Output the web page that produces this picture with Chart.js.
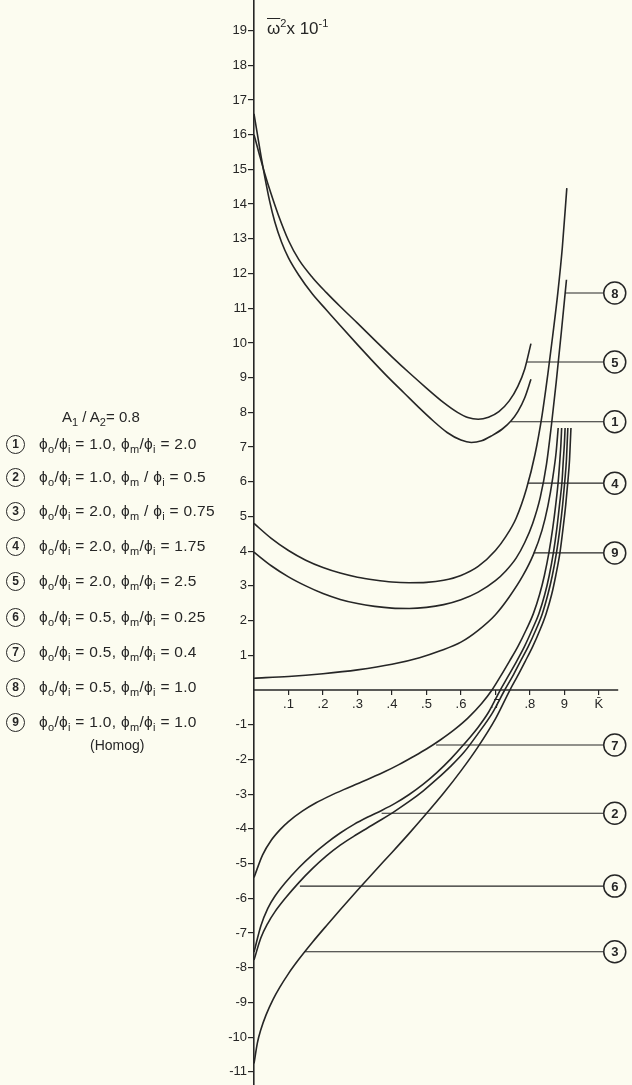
<!DOCTYPE html>
<html>
<head>
<meta charset="utf-8">
<script src="https://cdn.jsdelivr.net/npm/chart.js@4.4.1/dist/chart.umd.min.js"></script>
<style>
  html, body { margin: 0; padding: 0; background: #fcfcf0; }
  #wrap { position: relative; width: 632px; height: 1085px; overflow: hidden;
          font-family: "Liberation Sans", Arial, sans-serif; color: #262626; }
  #box { position: absolute; left: 0; top: 0; width: 632px; height: 1085px; }
  .ttl { position: absolute; left: 267px; top: 17px; font-size: 17px; white-space: nowrap; }
  .ttl .bar { text-decoration: overline; }
  .ttl sup { font-size: 11px; }
  .ratio { position: absolute; left: 62px; font-size: 15px; white-space: nowrap; }
  .row { position: absolute; left: 6px; height: 22px; line-height: 22px; white-space: nowrap; font-size: 15.5px; letter-spacing: 0.3px; }
  .row .num { display: inline-block; width: 17px; height: 17px; border: 1.5px solid #262626; border-radius: 50%;
              text-align: center; line-height: 17px; font-size: 12px; font-weight: bold; vertical-align: middle; margin-right: 14px; letter-spacing: 0; }
  .homog { position: absolute; left: 90px; font-size: 14px; }
  sub { font-size: 11px; }
</style>
</head>
<body>
<div id="wrap">
  <div id="box"><canvas id="grafico"></canvas></div>
  <div class="ttl"><span class="bar">ω</span><sup>2</sup>x 10<sup>-1</sup></div>
  <div id="legenda"></div>
</div>
<script>
// curvas: K (eixo x) e omega^2 x 10^-1 (eixo y)
const k1 = [0, 0.01, 0.02, 0.03, 0.045, 0.06, 0.08, 0.1, 0.13, 0.17, 0.21, 0.25, 0.3, 0.34, 0.39, 0.436, 0.48, 0.52, 0.56, 0.6, 0.63, 0.66, 0.69, 0.72, 0.745, 0.765, 0.785, 0.803];
const w1 = [16.6, 16.0, 15.4, 14.85, 14.1, 13.5, 12.9, 12.45, 11.95, 11.4, 10.95, 10.5, 9.95, 9.52, 9.0, 8.55, 8.12, 7.75, 7.42, 7.2, 7.13, 7.18, 7.33, 7.52, 7.75, 8.02, 8.42, 8.95];

const k5 = [0, 0.015, 0.03, 0.05, 0.07, 0.1, 0.13, 0.17, 0.21, 0.25, 0.3, 0.35, 0.4, 0.45, 0.5, 0.55, 0.59, 0.62, 0.65, 0.68, 0.71, 0.74, 0.765, 0.785, 0.803];
const w5 = [16.0, 15.45, 14.92, 14.28, 13.7, 12.95, 12.4, 11.88, 11.45, 11.05, 10.57, 10.08, 9.6, 9.14, 8.7, 8.28, 8.0, 7.85, 7.8, 7.86, 8.02, 8.33, 8.75, 9.25, 9.98];

const k4 = [0, 0.05, 0.1, 0.15, 0.2, 0.25, 0.3, 0.35, 0.4, 0.45, 0.5, 0.55, 0.6, 0.65, 0.7, 0.73, 0.76, 0.79, 0.815, 0.835, 0.852, 0.866, 0.881, 0.894, 0.907];
const w4 = [4.8, 4.37, 4.02, 3.74, 3.53, 3.37, 3.25, 3.17, 3.11, 3.09, 3.1, 3.16, 3.3, 3.56, 4.02, 4.42, 4.95, 5.8, 6.8, 7.9, 9.1, 10.2, 11.45, 12.75, 14.46];

const k8 = [0, 0.05, 0.1, 0.15, 0.2, 0.25, 0.3, 0.35, 0.4, 0.45, 0.5, 0.55, 0.6, 0.65, 0.7, 0.73, 0.76, 0.785, 0.808, 0.83, 0.848, 0.862, 0.876, 0.891, 0.906];
const w8 = [3.97, 3.58, 3.26, 3.0, 2.78, 2.61, 2.49, 2.41, 2.36, 2.35, 2.38, 2.46, 2.6, 2.82, 3.15, 3.43, 3.8, 4.25, 4.8, 5.55, 6.5, 7.6, 8.85, 10.3, 11.82];

const k9 = [0, 0.1, 0.2, 0.3, 0.4, 0.48, 0.54, 0.6, 0.65, 0.7, 0.74, 0.78, 0.81, 0.835, 0.852, 0.866, 0.876, 0.882];
const w9 = [0.34, 0.39, 0.47, 0.58, 0.74, 0.93, 1.13, 1.38, 1.72, 2.17, 2.68, 3.3, 3.9, 4.6, 5.3, 6.1, 6.85, 7.55];

const k7 = [0, 0.025, 0.05, 0.075, 0.1, 0.14, 0.18, 0.22, 0.26, 0.3, 0.34, 0.38, 0.42, 0.46, 0.5, 0.54, 0.58, 0.62, 0.66, 0.69,
  0.715, 0.74, 0.765, 0.79, 0.81, 0.828, 0.842, 0.855, 0.866, 0.875, 0.882, 0.887, 0.89, 0.892];
const w7 = [-5.4, -4.75, -4.33, -4.03, -3.79, -3.49, -3.25, -3.05, -2.87, -2.7, -2.53, -2.35, -2.15, -1.93, -1.7, -1.44, -1.15, -0.81, -0.39, 0,
  0.4, 0.82, 1.25, 1.75, 2.2, 2.75, 3.3, 3.95, 4.65, 5.35, 6.0, 6.65, 7.1, 7.55];

const k2 = [0, 0.02, 0.04, 0.06, 0.09, 0.13, 0.17, 0.21, 0.25, 0.29, 0.33, 0.37, 0.41, 0.45, 0.49, 0.53, 0.57, 0.61, 0.65, 0.68, 0.714,
  0.737, 0.761, 0.784, 0.807, 0.826, 0.843, 0.856, 0.868, 0.878, 0.886, 0.893, 0.897, 0.9, 0.902];
const w2 = [-7.55, -6.79, -6.29, -5.95, -5.56, -5.12, -4.74, -4.41, -4.12, -3.87, -3.66, -3.47, -3.26, -3.01, -2.72, -2.38, -1.99, -1.55, -1.07, -0.64, 0,
  0.4, 0.82, 1.25, 1.75, 2.2, 2.75, 3.3, 3.95, 4.65, 5.35, 6.0, 6.65, 7.1, 7.55];

const k6 = [0, 0.02, 0.04, 0.06, 0.09, 0.13, 0.17, 0.21, 0.25, 0.29, 0.33, 0.37, 0.41, 0.45, 0.49, 0.53, 0.57, 0.61, 0.65, 0.69, 0.727,
  0.75, 0.772, 0.795, 0.818, 0.836, 0.852, 0.865, 0.877, 0.887, 0.895, 0.901, 0.906, 0.908, 0.91];
const w6 = [-7.78, -7.14, -6.72, -6.4, -6.01, -5.55, -5.14, -4.78, -4.47, -4.21, -3.97, -3.73, -3.48, -3.21, -2.91, -2.57, -2.2, -1.78, -1.25, -0.68, 0,
  0.4, 0.82, 1.25, 1.75, 2.2, 2.75, 3.3, 3.95, 4.65, 5.35, 6.0, 6.65, 7.1, 7.55];

const k3 = [0, 0.01, 0.02, 0.035, 0.055, 0.075, 0.1, 0.13, 0.17, 0.21, 0.25, 0.3, 0.35, 0.4, 0.45, 0.5, 0.55, 0.6, 0.65, 0.7, 0.742,
  0.764, 0.786, 0.808, 0.83, 0.847, 0.863, 0.875, 0.887, 0.896, 0.904, 0.91, 0.915, 0.917, 0.919];
const w3 = [-10.76, -10.16, -9.78, -9.36, -8.92, -8.56, -8.17, -7.76, -7.26, -6.79, -6.33, -5.77, -5.22, -4.68, -4.13, -3.56, -2.97, -2.33, -1.63, -0.83, 0,
  0.4, 0.82, 1.25, 1.75, 2.2, 2.75, 3.3, 3.95, 4.65, 5.35, 6.0, 6.65, 7.1, 7.55];

// linhas de chamada -> numero no circulo
const leaderIds = ["8", "5", "1", "4", "9", "7", "2", "6", "3"];
const leaderW = [11.44, 9.45, 7.73, 5.96, 3.95, -1.585, -3.55, -5.65, -7.54];
const leaderK = [0.902, 0.79, 0.745, 0.794, 0.811, 0.528, 0.37, 0.133, 0.145];

// eixos
const xTicks = [0.1, 0.2, 0.3, 0.4, 0.5, 0.6, 0.7, 0.8, 0.9, 1.0];
const xTickLabels = [".1", ".2", ".3", ".4", ".5", ".6", ".7", ".8", "9", "K̄"];
const yTicks = [19, 18, 17, 16, 15, 14, 13, 12, 11, 10, 9, 8, 7, 6, 5, 4, 3, 2, 1, -1, -2, -3, -4, -5, -6, -7, -8, -9, -10, -11];
const yTickLabels = ["19", "18", "17", "16", "15", "14", "13", "12", "11", "10", "9", "8", "7", "6", "5", "4", "3", "2", "1",
  "-1", "-2", "-3", "-4", "-5", "-6", "-7", "-8", "-9", "-10", "-11"];

// legenda
const ratioText = "A<sub>1</sub> / A<sub>2</sub>= 0.8";
const legendNums = ["1", "2", "3", "4", "5", "6", "7", "8", "9"];
const legendTexts = [
  "ϕ<sub>o</sub>/ϕ<sub>i</sub> = 1.0, ϕ<sub>m</sub>/ϕ<sub>i</sub> = 2.0",
  "ϕ<sub>o</sub>/ϕ<sub>i</sub> = 1.0, ϕ<sub>m</sub> / ϕ<sub>i</sub> = 0.5",
  "ϕ<sub>o</sub>/ϕ<sub>i</sub> = 2.0, ϕ<sub>m</sub> / ϕ<sub>i</sub> = 0.75",
  "ϕ<sub>o</sub>/ϕ<sub>i</sub> = 2.0, ϕ<sub>m</sub>/ϕ<sub>i</sub> = 1.75",
  "ϕ<sub>o</sub>/ϕ<sub>i</sub> = 2.0, ϕ<sub>m</sub>/ϕ<sub>i</sub> = 2.5",
  "ϕ<sub>o</sub>/ϕ<sub>i</sub> = 0.5, ϕ<sub>m</sub>/ϕ<sub>i</sub> = 0.25",
  "ϕ<sub>o</sub>/ϕ<sub>i</sub> = 0.5, ϕ<sub>m</sub>/ϕ<sub>i</sub> = 0.4",
  "ϕ<sub>o</sub>/ϕ<sub>i</sub> = 0.5, ϕ<sub>m</sub>/ϕ<sub>i</sub> = 1.0",
  "ϕ<sub>o</sub>/ϕ<sub>i</sub> = 1.0, ϕ<sub>m</sub>/ϕ<sub>i</sub> = 1.0"
];
const homogText = "(Homog)";

const ink = "#262626";
const circleK = 1.046;
const circleR = 11;
const xAxisEnd = 1.056;

// monta a legenda em HTML
function montarLegenda() {
  const el = document.getElementById("legenda");
  const rowY = [444, 477, 511, 546, 581, 617, 652, 687, 722];
  let html = `<div class="ratio" style="top:${418 - 10}px">${ratioText}</div>`;
  legendNums.forEach((n, i) => {
    html += `<div class="row" style="top:${rowY[i] - 11}px"><span class="num">${n}</span>${legendTexts[i]}</div>`;
  });
  html += `<div class="homog" style="top:${746 - 9}px">${homogText}</div>`;
  el.innerHTML = html;
}

function pares(ks, ws) {
  return ks.map((k, i) => ({ x: k, y: ws[i] }));
}

const curvas = [[k1, w1], [k5, w5], [k4, w4], [k8, w8], [k9, w9], [k7, w7], [k2, w2], [k6, w6], [k3, w3]];

const datasets = curvas.map(([ks, ws]) => ({
  data: pares(ks, ws),
  showLine: true,
  borderColor: ink,
  borderWidth: 1.6,
  pointRadius: 0,
  cubicInterpolationMode: "monotone",
  fill: false
}));

// eixo x no zero, linhas de chamada e circulos numerados
const chamadas = {
  id: "chamadas",
  afterDatasetsDraw(chart) {
    const { ctx, scales: { x, y } } = chart;
    ctx.save();
    const y0 = y.getPixelForValue(0);
    ctx.strokeStyle = ink;
    ctx.lineWidth = 1.6;
    ctx.beginPath();
    ctx.moveTo(x.getPixelForValue(0), y0);
    ctx.lineTo(x.getPixelForValue(xAxisEnd), y0);
    ctx.stroke();

    const cx = x.getPixelForValue(circleK);
    ctx.fillStyle = ink;
    ctx.font = "bold 13px 'Liberation Sans', Arial, sans-serif";
    ctx.textAlign = "center";
    ctx.textBaseline = "middle";
    leaderIds.forEach((id, i) => {
      const py = y.getPixelForValue(leaderW[i]);
      ctx.lineWidth = 1.1;
      ctx.beginPath();
      ctx.moveTo(x.getPixelForValue(leaderK[i]), py);
      ctx.lineTo(cx - circleR, py);
      ctx.stroke();
      ctx.lineWidth = 1.5;
      ctx.beginPath();
      ctx.arc(cx, py, circleR, 0, Math.PI * 2);
      ctx.stroke();
      ctx.fillText(id, cx, py + 1);
    });
    ctx.restore();
  }
};

montarLegenda();

new Chart(document.getElementById("grafico"), {
  type: "scatter",
  data: { datasets },
  options: {
    animation: false,
    responsive: true,
    maintainAspectRatio: false,
    layout: { padding: 0 },
    plugins: { legend: { display: false }, tooltip: { enabled: false } },
    scales: {
      x: {
        type: "linear",
        min: 0,
        max: 1.096,
        position: { y: 0 },
        afterBuildTicks: s => { s.ticks = xTicks.map(v => ({ value: v })); },
        afterFit: s => { s.paddingLeft = 0; s.paddingRight = 0; },
        grid: { drawOnChartArea: false, drawTicks: true, tickLength: 5, color: ink, lineWidth: 1.2 },
        border: { display: false },
        ticks: {
          callback: (v, i) => xTickLabels[i],
          autoSkip: false, maxRotation: 0, padding: 2, color: ink,
          font: { family: "'Liberation Sans', Arial, sans-serif", size: 13 }
        }
      },
      y: {
        type: "linear",
        min: -11.38,
        max: 19.88,
        afterBuildTicks: s => { s.ticks = yTicks.map(v => ({ value: v })); },
        afterFit: s => { s.width = 254; s.paddingTop = 0; s.paddingBottom = 0; },
        grid: { drawOnChartArea: false, drawTicks: true, tickLength: 6, color: ink, lineWidth: 1.2 },
        border: { display: true, color: ink, width: 1.6 },
        ticks: {
          callback: (v, i) => yTickLabels[i],
          autoSkip: false, padding: 1, color: ink,
          font: { family: "'Liberation Sans', Arial, sans-serif", size: 13 }
        }
      }
    }
  },
  plugins: [chamadas]
});
</script>
</body>
</html>
